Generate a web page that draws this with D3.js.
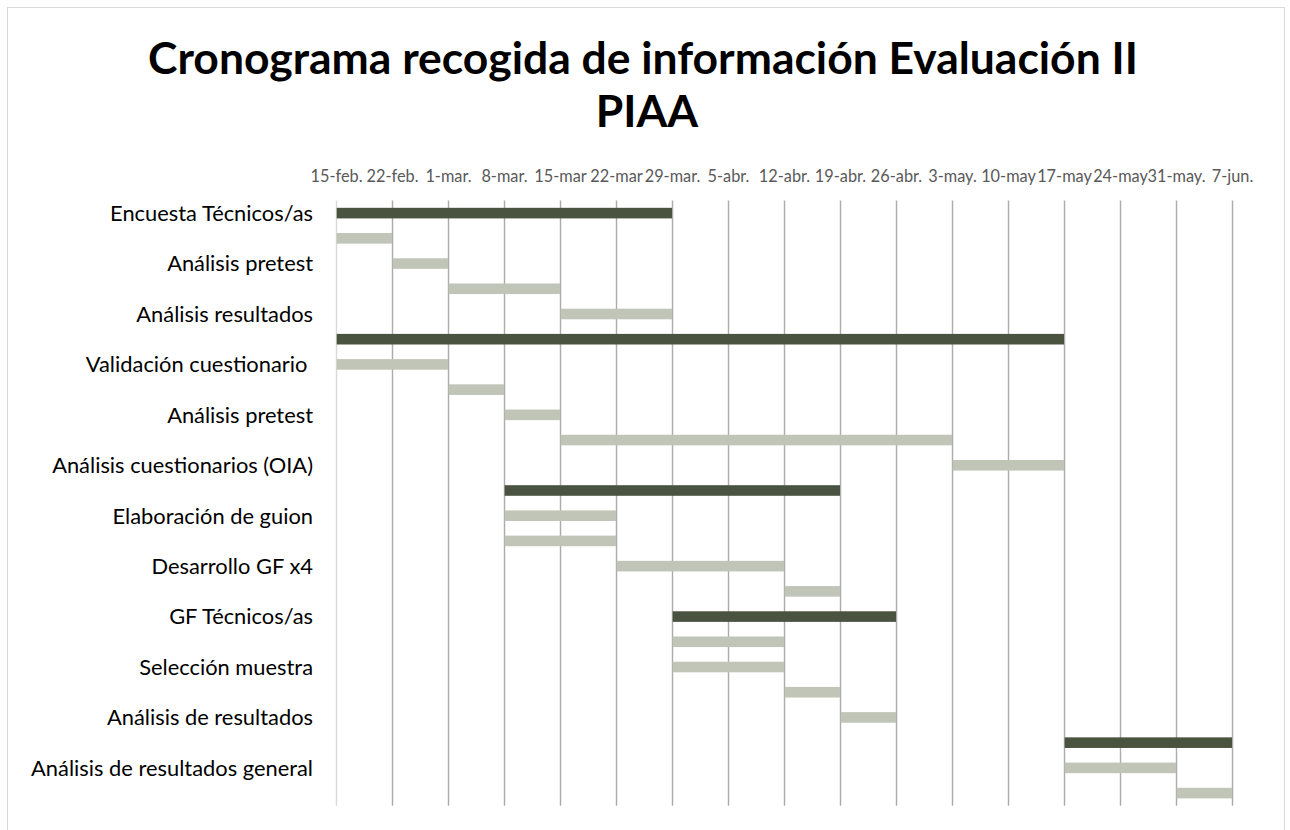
<!DOCTYPE html>
<html>
<head>
<meta charset="utf-8">
<script src="https://cdn.jsdelivr.net/npm/d3@7/dist/d3.min.js"></script>
<style>
  html, body { margin: 0; padding: 0; background: #fff; }
  svg { display: block; }
  text { font-family: Lato, "Open Sans", sans-serif; }
</style>
</head>
<body>
<svg id="chart" width="1290" height="830"></svg>
<script>
// ---------------- DATA ----------------
const titleLines = ["Cronograma recogida de información Evaluación II", "PIAA"];

// one entry per row (top to bottom); rows without a visible label are ""
const rowLabels = [
  "Encuesta Técnicos/as", "",
  "Análisis pretest", "",
  "Análisis resultados", "",
  "Validación cuestionario ", "",
  "Análisis pretest", "",
  "Análisis cuestionarios (OIA)", "",
  "Elaboración de guion", "",
  "Desarrollo GF x4", "",
  "GF Técnicos/as", "",
  "Selección muestra", "",
  "Análisis de resultados", "",
  "Análisis de resultados general", ""
];

const taskStart = [
  "2021-02-15", "2021-02-15", "2021-02-22", "2021-03-01", "2021-03-15",
  "2021-02-15", "2021-02-15", "2021-03-01", "2021-03-08", "2021-03-15", "2021-05-03",
  "2021-03-08", "2021-03-08", "2021-03-08", "2021-03-22", "2021-04-12",
  "2021-03-29", "2021-03-29", "2021-03-29", "2021-04-12", "2021-04-19",
  "2021-05-17", "2021-05-17", "2021-05-31"
];
const taskEnd = [
  "2021-03-29", "2021-02-22", "2021-03-01", "2021-03-15", "2021-03-29",
  "2021-05-17", "2021-03-01", "2021-03-08", "2021-03-15", "2021-05-03", "2021-05-17",
  "2021-04-19", "2021-03-22", "2021-03-22", "2021-04-12", "2021-04-19",
  "2021-04-26", "2021-04-12", "2021-04-12", "2021-04-19", "2021-04-26",
  "2021-06-07", "2021-05-31", "2021-06-07"
];
// "group" = summary bar (dark), "sub" = sub-task (light)
const taskType = [
  "group", "sub", "sub", "sub", "sub",
  "group", "sub", "sub", "sub", "sub", "sub",
  "group", "sub", "sub", "sub", "sub",
  "group", "sub", "sub", "sub", "sub",
  "group", "sub", "sub"
];

const tickDates = [
  "2021-02-15", "2021-02-22", "2021-03-01", "2021-03-08", "2021-03-15", "2021-03-22",
  "2021-03-29", "2021-04-05", "2021-04-12", "2021-04-19", "2021-04-26", "2021-05-03",
  "2021-05-10", "2021-05-17", "2021-05-24", "2021-05-31", "2021-06-07"
];
const tickLabels = [
  "15-feb.", "22-feb.", "1-mar.", "8-mar.", "15-mar", "22-mar",
  "29-mar.", "5-abr.", "12-abr.", "19-abr.", "26-abr.", "3-may.",
  "10-may", "17-may", "24-may", "31-may.", "7-jun."
];

const colors = { group: "#4a5240", sub: "#c0c5b8" };

// ---------------- CHART ----------------
const parse = d3.utcParse("%Y-%m-%d");
const svg = d3.select("#chart");

const plot = { left: 336, right: 1232, top: 200.5, bottom: 805.7 };

// outer border
svg.append("rect")
  .attr("x", 7.5).attr("y", 7.5)
  .attr("width", 1277).attr("height", 840)
  .attr("fill", "#fff").attr("stroke", "#d9d9d9").attr("stroke-width", 1);

function fitFont(sel, refNode, targetWidth, startSize) {
  sel.attr("font-size", startSize);
  const w = refNode.getComputedTextLength();
  const fs = startSize * targetWidth / w;
  sel.attr("font-size", fs);
  return fs;
}

// title
const t1 = svg.append("text")
  .attr("x", 643).attr("y", 74)
  .attr("text-anchor", "middle").attr("font-weight", "bold").attr("fill", "#000")
  .text(titleLines[0]);
const titleFs = fitFont(t1, t1.node(), 990, 44);
svg.append("text")
  .attr("x", 647).attr("y", 127)
  .attr("text-anchor", "middle").attr("font-weight", "bold").attr("fill", "#000")
  .attr("font-size", titleFs)
  .text(titleLines[1]);

const x = d3.scaleUtc()
  .domain([parse(tickDates[0]), parse(tickDates[tickDates.length - 1])])
  .range([plot.left, plot.right]);

const y = d3.scaleBand()
  .domain(d3.range(rowLabels.length))
  .range([plot.top, plot.bottom]);

// vertical gridlines
const grid = svg.append("g")
  .attr("transform", `translate(0,${plot.bottom})`)
  .call(d3.axisBottom(x)
    .tickValues(tickDates.map(parse))
    .tickSize(-(plot.bottom - plot.top))
    .tickFormat(""));
grid.select(".domain").remove();
grid.selectAll(".tick line")
  .attr("stroke", (d, i) => i === 0 ? "#d9d9d9" : "#adaaaa")
  .attr("stroke-width", 1.4);

// top axis labels
const axisTop = svg.append("g")
  .attr("transform", `translate(0,${182})`)
  .call(d3.axisTop(x)
    .tickValues(tickDates.map(parse))
    .tickSize(0).tickPadding(0)
    .tickFormat((d, i) => tickLabels[i]));
axisTop.select(".domain").remove();
const tickTexts = axisTop.selectAll(".tick text")
  .attr("fill", "#595959")
  .attr("font-family", "Lato, 'Open Sans', sans-serif")
  .attr("dy", 0);
fitFont(tickTexts, tickTexts.nodes()[0], 52, 13);

// bars
const barH = 10.6;
svg.append("g").selectAll("rect")
  .data(taskStart.map((s, i) => ({ s: parse(s), e: parse(taskEnd[i]), type: taskType[i], i })))
  .join("rect")
  .attr("x", d => x(d.s) + 0.7)
  .attr("width", d => x(d.e) - x(d.s) - 0.7)
  .attr("y", d => y(d.i) + y.bandwidth() / 2 - barH / 2)
  .attr("height", barH)
  .attr("fill", d => colors[d.type]);

// category labels
const labG = svg.append("g");
const labs = labG.selectAll("text")
  .data(rowLabels.map((t, i) => ({ t, i })).filter(d => d.t !== ""))
  .join("text")
  .attr("x", 313)
  .attr("text-anchor", "end")
  .attr("fill", "#000")
  .style("white-space", "pre")
  .text(d => d.t);
const labFs = fitFont(labs, labs.nodes()[0], 203, 18);
labs.attr("y", d => y(d.i) + y.bandwidth() / 2 + labFs * 0.36);
</script>
</body>
</html>
